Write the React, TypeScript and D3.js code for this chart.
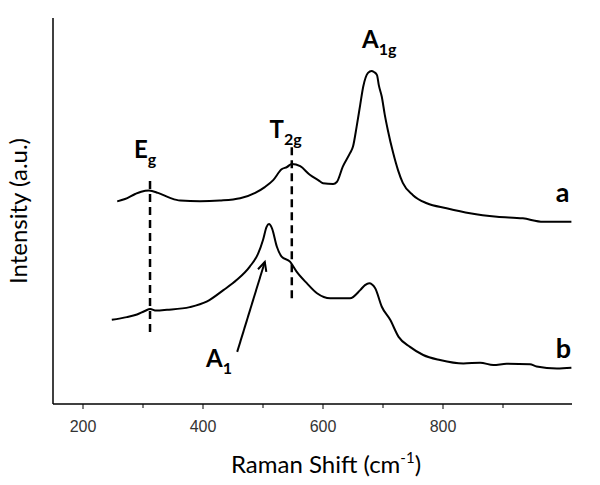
import React from "react";
import * as d3 from "d3";

// Raman shift (cm-1) and intensity (a.u.)
const shiftA = [257, 270, 287, 297, 310, 325, 345, 362, 395, 428, 462, 487, 503, 517, 531, 540, 548, 562, 578, 592, 600, 617, 623, 633, 645, 650, 656, 662, 667, 675, 681, 685, 690, 693, 698, 703, 708, 717, 725, 733, 750, 773, 806, 845, 890, 933, 967, 1014];
const intensityA = [52.5, 53.1, 54.4, 55.0, 55.3, 54.7, 53.4, 52.7, 52.5, 52.7, 53.3, 54.7, 56.2, 58.0, 60.8, 61.4, 62.2, 61.6, 59.4, 58.0, 57.2, 57.0, 57.5, 61.5, 65.0, 66.7, 71.8, 77.5, 82.2, 85.8, 86.3, 86.0, 85.2, 82.6, 79.6, 74.9, 71.0, 65.0, 60.6, 57.3, 54.1, 52.0, 50.7, 49.4, 48.5, 48.1, 47.2, 47.2];

const shiftB = [248, 273, 290, 303, 312, 322, 340, 378, 406, 434, 456, 478, 492, 500, 506, 510, 515, 523, 531, 545, 556, 573, 590, 612, 645, 662, 670, 677, 687, 698, 712, 726, 745, 767, 795, 834, 862, 884, 906, 945, 956, 990, 1014];
const intensityB = [21.8, 22.5, 23.2, 24.1, 24.6, 24.2, 24.4, 25.1, 26.5, 29.5, 32.1, 35.6, 39.0, 42.5, 45.9, 46.6, 45.5, 40.8, 38.2, 36.9, 34.3, 31.3, 28.7, 27.4, 27.4, 29.5, 30.8, 31.3, 30.0, 25.2, 21.8, 17.4, 14.8, 12.7, 11.4, 10.5, 10.7, 10.1, 10.4, 10.3, 9.7, 9.2, 9.4];

const majorTicks = [200, 400, 600, 800];
const minorTicks = [300, 500, 700, 900];

// dashed mode markers: [shift, intensity from, intensity to]
const modeLines: [number, number, number][] = [
  [311.7, 57.8, 18.2],
  [548, 66.5, 27.0],
];

const W = 600;
const H = 485;

export default function App() {
  const x = d3.scaleLinear().domain([150, 1015]).range([53, 572]);
  const y = d3.scaleLinear().domain([0, 100]).range([404, 18]);
  const line = d3
    .line<[number, number]>()
    .x((d) => x(d[0]))
    .y((d) => y(d[1]))
    .curve(d3.curveMonotoneX);
  const dataA = shiftA.map((s, i) => [s, intensityA[i]] as [number, number]);
  const dataB = shiftB.map((s, i) => [s, intensityB[i]] as [number, number]);

  const labelFont = "Lato, 'Open Sans', sans-serif";

  // arrow from A1 label to peak
  const tail: [number, number] = [x(457), y(13.5)];
  const tip: [number, number] = [x(503), y(36.8)];
  const ang = Math.atan2(tip[1] - tail[1], tip[0] - tail[0]);
  const ah = 10;
  const h1 = [tip[0] - ah * Math.cos(ang - 0.45), tip[1] - ah * Math.sin(ang - 0.45)];
  const h2 = [tip[0] - ah * Math.cos(ang + 0.45), tip[1] - ah * Math.sin(ang + 0.45)];

  const sub = (main: string, s: string, px: number, py: number) => (
    <text x={px} y={py} fontFamily={labelFont} fontWeight="bold" fontSize={24} fill="#000">
      <tspan>{main}</tspan>
      <tspan fontSize={16} dy={7}>{s}</tspan>
    </text>
  );

  return (
    <svg width={W} height={H} style={{ position: "absolute", left: 0, top: 0 }} xmlns="http://www.w3.org/2000/svg">
      <rect width={W} height={H} fill="#fff" />
      {/* axes */}
      <line x1={x(150)} x2={x(150)} y1={y(100)} y2={y(0)} stroke="#000" strokeWidth={1.5} />
      <line x1={x(150)} x2={x(1015)} y1={y(0)} y2={y(0)} stroke="#000" strokeWidth={1.5} />
      {majorTicks.map((t) => (
        <g key={t}>
          <line x1={x(t)} x2={x(t)} y1={y(0)} y2={y(0) + 5} stroke="#000" strokeWidth={1} />
          <text x={x(t)} y={y(0) + 28} textAnchor="middle" fontFamily="'Liberation Sans', Arial, sans-serif" fontSize={16} fill="#333">
            {t}
          </text>
        </g>
      ))}
      {minorTicks.map((t) => (
        <line key={t} x1={x(t)} x2={x(t)} y1={y(0)} y2={y(0) + 4} stroke="#000" strokeWidth={1} />
      ))}
      <text x={326} y={473} textAnchor="middle" fontFamily={labelFont} fontSize={24} fill="#000">
        Raman Shift (cm<tspan fontSize={15} dy={-10}>-1</tspan><tspan dy={10}>)</tspan>
      </text>
      <text transform="translate(27,211) rotate(-90)" textAnchor="middle" fontFamily={labelFont} fontSize={24} fill="#000">
        Intensity (a.u.)
      </text>

      {/* mode markers */}
      {modeLines.map(([s, a, b], i) => (
        <line key={i} x1={x(s)} x2={x(s)} y1={y(a)} y2={y(b)} stroke="#000" strokeWidth={2.5} strokeDasharray="8,5" />
      ))}

      {/* spectra */}
      <path d={line(dataA) ?? ""} fill="none" stroke="#000" strokeWidth={2} />
      <path d={line(dataB) ?? ""} fill="none" stroke="#000" strokeWidth={2} />

      {/* arrow */}
      <line x1={tail[0]} y1={tail[1]} x2={tip[0]} y2={tip[1]} stroke="#000" strokeWidth={2} />
      <polyline points={`${h1[0]},${h1[1]} ${tip[0]},${tip[1]} ${h2[0]},${h2[1]}`} fill="none" stroke="#000" strokeWidth={2} />

      {/* labels */}
      {sub("E", "g", x(285), y(63.8))}
      {sub("T", "2g", x(511), y(68.8))}
      {sub("A", "1g", x(665), y(92.2))}
      {sub("A", "1", x(405), y(9.6))}
      <text x={x(988)} y={y(52.3)} fontFamily={labelFont} fontWeight="bold" fontSize={27} fill="#000">a</text>
      <text x={x(988)} y={y(12)} fontFamily={labelFont} fontWeight="bold" fontSize={27} fill="#000">b</text>
    </svg>
  );
}
